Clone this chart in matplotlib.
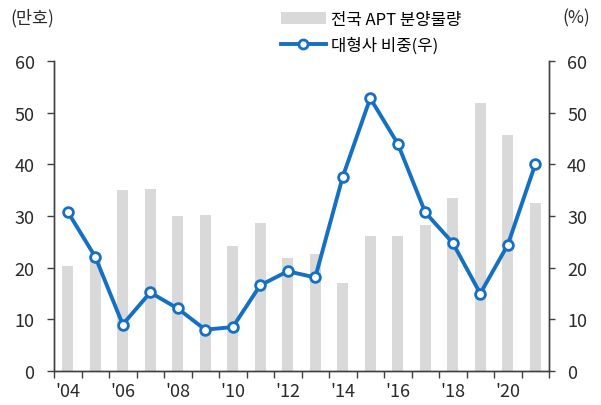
import matplotlib
matplotlib.use("Agg")
import matplotlib.pyplot as plt
from matplotlib.lines import Line2D
from matplotlib.patches import Patch
import numpy as np

plt.rcParams['font.family'] = ['Noto Sans CJK KR', 'DejaVu Sans']

years = list(range(2004, 2022))
supply = [20.3, 22.0, 35.0, 35.3, 30.0, 30.2, 24.1, 28.6, 21.8, 22.6,
          17.1, 26.1, 26.1, 28.3, 33.4, 51.8, 45.6, 32.6]
share = [30.8, 22.1, 9.0, 15.2, 12.1, 8.0, 8.5, 16.6, 19.3, 18.1,
         37.6, 52.8, 44.0, 30.7, 24.8, 15.0, 24.4, 40.0]
xlabels = ["'04", "'06", "'08", "'10", "'12", "'14", "'16", "'18", "'20"]

bar_color = '#d9d9d9'
line_color = '#1570c4'
spine_color = '#404040'
text_color = '#2a2a2a'

fig = plt.figure(figsize=(6.01, 4.06), dpi=100)
ax = fig.add_axes([54/601, 1-372/406, (549-54)/601, (372-62)/406])
ax2 = ax.twinx()

x = np.arange(len(years))
ax.bar(x, supply, width=0.4, color=bar_color, zorder=1)
ax2.plot(x, share, color=line_color, lw=2.8, marker='o', ms=7,
         mfc='white', mec=line_color, mew=2.0, zorder=3)

for a in (ax, ax2):
    a.set_ylim(0, 60)
    a.set_xlim(-0.5, len(years) - 0.5)
    a.spines['top'].set_visible(False)
    for s in ('left', 'right', 'bottom'):
        a.spines[s].set_color(spine_color)
        a.spines[s].set_linewidth(1.0)
    a.set_yticks(range(0, 61, 10))
ax.tick_params(axis='y', length=5, width=1, color=spine_color,
               labelsize=13, labelcolor=text_color, pad=9)
ax2.tick_params(axis='y', length=4, width=1, color=spine_color,
                labelsize=13, labelcolor=text_color, pad=9)

ax.set_xticks(x[::2])
ax.set_xticklabels(xlabels)
ax.set_xticks(np.arange(-0.5, len(years), 1), minor=True)
ax.tick_params(axis='x', which='major', length=0, labelsize=13,
               labelcolor=text_color, pad=8)
ax.tick_params(axis='x', which='minor', length=5, width=1, color=spine_color)

fig.text(10/601, 1-18/406, '(만호)', fontsize=12.5, va='center', ha='left', color=text_color)
fig.text(590/601, 1-18/406, '(%)', fontsize=12.5, va='center', ha='right', color=text_color)

handles = [Patch(facecolor=bar_color, edgecolor='none'),
           Line2D([], [], color=line_color, lw=2.8, marker='o', ms=6.5,
                  mfc='white', mec=line_color, mew=2.0)]
fig.legend(handles, ['전국 APT 분양물량', '대형사 비중(우)'],
           loc='upper left', bbox_to_anchor=(274/601, 1-5/406),
           frameon=False, fontsize=12, handlelength=2.7,
           handletextpad=0.3, labelspacing=0.55, borderaxespad=0)

fig.savefig('out.png', dpi=100)
